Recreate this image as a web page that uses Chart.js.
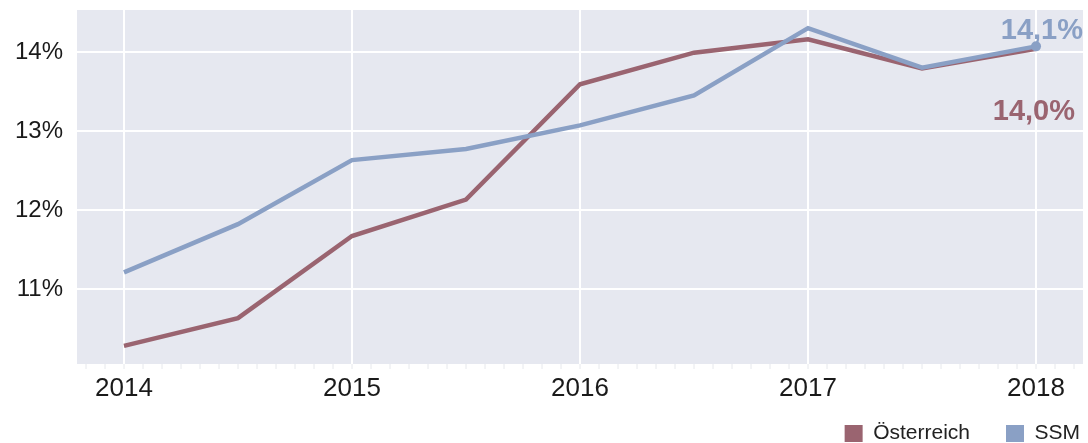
<!DOCTYPE html>
<html>
<head>
<meta charset="utf-8">
<script src="https://cdn.jsdelivr.net/npm/chart.js@4/dist/chart.umd.min.js"></script>
<style>
    html, body { margin: 0; padding: 0; background: #fff; }
    #wrap { width: 1088px; height: 443px; }
</style>
</head>
<body>
<div id="wrap"><canvas id="ratio-chart" width="1088" height="443"></canvas></div>
<script>
// Half-yearly values
const periods = [2014, 2014.5, 2015, 2015.5, 2016, 2016.5, 2017, 2017.5, 2018];
const oesterreich = [10.28, 10.63, 11.67, 12.13, 13.59, 13.99, 14.16, 13.79, 14.04];
const ssm = [11.21, 11.82, 12.63, 12.77, 13.07, 13.45, 14.30, 13.80, 14.07];
const seriesNames = ['Österreich', 'SSM'];
const yTicks = [11, 12, 13, 14];
const yearTicks = [2014, 2015, 2016, 2017, 2018];

const RED = '#9a6470';
const BLUE = '#8aa0c5';
const FONT = '"Liberation Sans", Arial, sans-serif';

function points(values) {
    return values.map((v, i) => ({ x: periods[i], y: v }));
}

function isYear(v) {
    return Math.abs(v - Math.round(v)) < 1e-6;
}

// grey plot background
const plotBackground = {
    id: 'plotBackground',
    beforeDraw(chart) {
        const { ctx, chartArea: a } = chart;
        ctx.save();
        ctx.fillStyle = '#e6e8f0';
        ctx.fillRect(a.left, a.top, a.right - a.left, a.bottom - a.top);
        ctx.restore();
    }
};

// value labels next to the last point of each series
const endLabels = {
    id: 'endLabels',
    afterDatasetsDraw(chart) {
        const ctx = chart.ctx;
        const offsets = [{ dx: 39, dy: 63 }, { dx: 47, dy: -15 }];
        ctx.save();
        ctx.font = 'bold 29px ' + FONT;
        ctx.textAlign = 'right';
        ctx.textBaseline = 'middle';
        chart.data.datasets.forEach((ds, i) => {
            const meta = chart.getDatasetMeta(i);
            const last = meta.data[meta.data.length - 1];
            const value = ds.data[ds.data.length - 1].y;
            ctx.fillStyle = ds.borderColor;
            ctx.fillText(value.toFixed(1).replace('.', ',') + '%', last.x + offsets[i].dx, last.y + offsets[i].dy);
        });
        ctx.restore();
    }
};

// keep the legend low and to the right, like the original
const legendPlace = {
    id: 'legendPlace',
    beforeInit(chart) {
        const fit = chart.legend.fit;
        chart.legend.fit = function () {
            fit.call(this);
            this.height = 34;
        };
    },
    afterLayout(chart) {
        const lg = chart.legend;
        lg.top -= 22;
        lg.left += 31;
        lg.right += 31;
    }
};

const ctx = document.getElementById('ratio-chart').getContext('2d');

new Chart(ctx, {
    type: 'line',
    data: {
        datasets: [{
            label: seriesNames[0],
            data: points(oesterreich),
            borderColor: RED,
            backgroundColor: RED,
            borderWidth: 4.5,
            pointRadius: 0,
            tension: 0,
            order: 1
        }, {
            label: seriesNames[1],
            data: points(ssm),
            borderColor: BLUE,
            backgroundColor: BLUE,
            borderWidth: 4.5,
            pointRadius: ctx => (ctx.dataIndex === ssm.length - 1 ? 5 : 0),
            pointBorderWidth: 0,
            tension: 0,
            order: 0
        }]
    },
    options: {
        responsive: false,
        animation: false,
        layout: {
            padding: { top: 10, right: 3, left: 0, bottom: 0 }
        },
        plugins: {
            tooltip: { enabled: false },
            legend: {
                display: true,
                position: 'bottom',
                align: 'end',
                labels: {
                    sort: (a, b) => a.datasetIndex - b.datasetIndex,
                    generateLabels: chart => Chart.defaults.plugins.legend.labels.generateLabels(chart)
                        .map(item => Object.assign(item, { lineWidth: 0 })),
                    boxWidth: 18,
                    boxHeight: 17,
                    padding: 36,
                    color: '#222',
                    font: { family: FONT, size: 21 }
                }
            }
        },
        scales: {
            x: {
                type: 'linear',
                min: 2013.794,
                max: 2018.206,
                afterBuildTicks: scale => {
                    const ticks = [];
                    for (let m = Math.ceil(scale.min * 12); m <= Math.floor(scale.max * 12); m++) {
                        ticks.push({ value: m / 12 });
                    }
                    scale.ticks = ticks;
                },
                afterFit: scale => {
                    scale.height = 45;
                    scale.paddingLeft = 0;
                    scale.paddingRight = 0;
                },
                border: { display: false },
                grid: {
                    color: c => (c.tick && isYear(c.tick.value) && yearTicks.includes(Math.round(c.tick.value)) ? '#ffffff' : 'rgba(0,0,0,0)'),
                    lineWidth: 2,
                    tickColor: '#e6e8ec',
                    tickWidth: 1,
                    tickLength: 5
                },
                ticks: {
                    autoSkip: false,
                    maxRotation: 0,
                    padding: 4,
                    color: '#1a1a1a',
                    font: { family: FONT, size: 26 },
                    callback: v => (isYear(v) ? String(Math.round(v)) : '')
                }
            },
            y: {
                min: 10.05,
                max: 14.53,
                afterBuildTicks: scale => {
                    scale.ticks = yTicks.map(v => ({ value: v }));
                },
                afterFit: scale => {
                    scale.width = 77;
                    scale.paddingTop = 0;
                    scale.paddingBottom = 0;
                },
                border: { display: false },
                grid: {
                    color: '#ffffff',
                    lineWidth: 2,
                    drawTicks: false
                },
                ticks: {
                    padding: 14,
                    color: '#1a1a1a',
                    font: { family: FONT, size: 24 },
                    callback: v => v + '%'
                }
            }
        }
    },
    plugins: [plotBackground, endLabels, legendPlace]
});
</script>
</body>
</html>
